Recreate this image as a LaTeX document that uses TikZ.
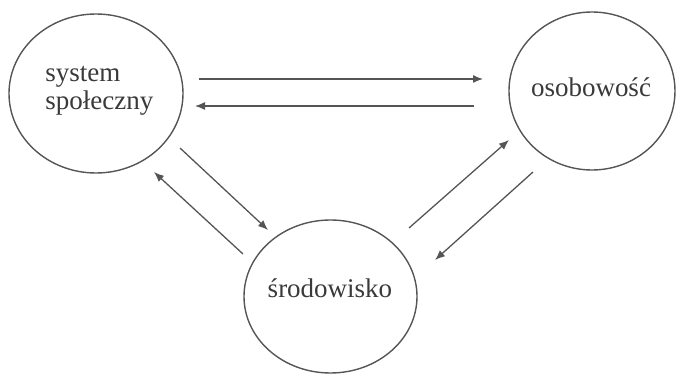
\documentclass[tikz,border=0pt]{standalone}
\usepackage{fontspec}
\setmainfont{Liberation Serif}
\usetikzlibrary{shapes.geometric,arrows.meta}
\definecolor{ink}{HTML}{555555}
\definecolor{txt}{HTML}{3A3A3A}
\begin{document}
\begin{tikzpicture}[x=0.5pt,y=-0.5pt,
  blob/.style={draw=ink,line width=0.7pt,ellipse,inner sep=0pt},
  lbl/.style={text=txt,font=\fontsize{13.5}{14}\selectfont,inner sep=0pt,anchor=base west},
  conn/.style={draw=ink,line width=0.65pt,-{Latex[length=5pt,width=4pt]}}]
\useasboundingbox (0,0) rectangle (676,374);
\node[blob,minimum width=87pt,minimum height=79.5pt] (ss) at (96,93.5) {};
\node[blob,minimum width=83pt,minimum height=79pt] (os) at (592,91) {};
\node[blob,minimum width=86.5pt,minimum height=76.5pt] (sr) at (330.5,296.5) {};
\node[lbl] (t1) at (45,82) {system};
\node[lbl] (t2) at (45,110) {społeczny};
\node[lbl,anchor=base] (t3) at (591,97) {osobowość};
\node[lbl,anchor=base] (t4) at (330,298) {środowisko};
\coordinate (a1) at (199,79); \coordinate (b1) at (483,79);
\coordinate (a2) at (474,106); \coordinate (b2) at (195,106);
\coordinate (a3) at (180,148); \coordinate (b3) at (268,230);
\coordinate (a4) at (243,254); \coordinate (b4) at (154,172);
\coordinate (a5) at (409,228); \coordinate (b5) at (509,140);
\coordinate (a6) at (533,172); \coordinate (b6) at (435,260);
\draw[conn] (a1) -- (b1);
\draw[conn] (a2) -- (b2);
\draw[conn] (a3) -- (b3);
\draw[conn] (a4) -- (b4);
\draw[conn] (a5) -- (b5);
\draw[conn] (a6) -- (b6);
\end{tikzpicture}
\end{document}
